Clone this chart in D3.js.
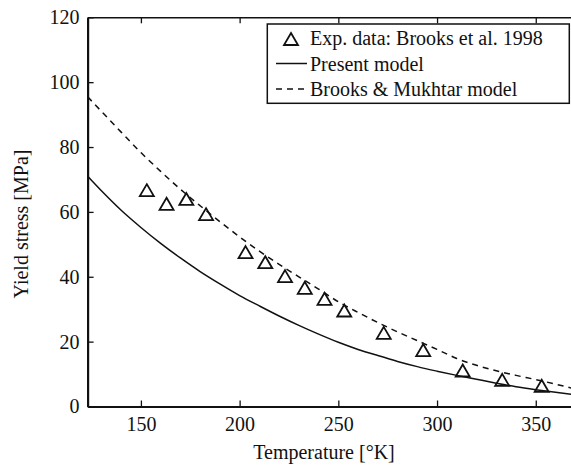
<!DOCTYPE html>
<html>
<head>
<meta charset="utf-8">
<script src="https://cdn.jsdelivr.net/npm/d3@7"></script>
<style>
  body { margin: 0; background: #fff; }
  svg, svg text { font-family: 'Liberation Serif', 'Times New Roman', 'DejaVu Serif', serif; }
</style>
</head>
<body>
<svg></svg>
<script>
// experimental points (Brooks et al. 1998)
const expTemp = [153, 163, 173, 183, 203, 213, 223, 233, 243, 253, 273, 293, 313, 333, 353];
const expStress = [66.7, 62.5, 64.0, 59.3, 47.6, 44.5, 40.2, 36.6, 33.2, 29.6, 22.7, 17.4, 11.1, 8.2, 6.4];

// model curves
const modelTemp = [123, 130, 140, 150, 160, 170, 180, 190, 200, 210, 220, 230, 240, 250, 260, 270, 280, 290, 300, 310, 320, 330, 340, 350, 360, 368];
const presentModel = [71.0, 66.5, 60.5, 55.2, 50.3, 45.8, 41.6, 37.8, 34.2, 31.0, 27.9, 25.0, 22.3, 19.8, 17.6, 15.7, 13.9, 12.3, 10.9, 9.6, 8.4, 7.2, 6.1, 5.2, 4.4, 3.8];
const brooksModel = [95.5, 91.0, 84.6, 78.3, 72.5, 67.0, 61.9, 57.0, 52.3, 47.9, 43.8, 40.0, 36.2, 32.3, 29.0, 25.9, 23.0, 20.3, 17.6, 14.8, 12.7, 11.0, 9.6, 8.3, 6.9, 5.7];

const xTicks = [150, 200, 250, 300, 350];
const yTicks = [0, 20, 40, 60, 80, 100, 120];
const legendLabels = ['Exp. data: Brooks et al. 1998', 'Present model', 'Brooks & Mukhtar model'];

const serif = "'Liberation Serif', 'Times New Roman', 'DejaVu Serif', serif";

const svg = d3.select('svg');
svg.attr('width', 571)
   .attr('height', 468);
const width = +svg.attr('width');
const height = +svg.attr('height');

const margin = {top: 17.3, right: 0, bottom: 61.5, left: 87.6};
const innerWidth = 571.3 - margin.left;
const innerHeight = height - margin.top - margin.bottom;

const xScale = d3.scaleLinear()
  .domain([123, 368])
  .range([0, innerWidth]);

const yScale = d3.scaleLinear()
  .domain([0, 120])
  .range([innerHeight, 0]);

const g = svg.append('g')
  .attr('transform', 'translate(' + margin.left + ',' + margin.top + ')');

g.append('clipPath').attr('id', 'plot-clip')
  .append('rect')
  .attr('width', innerWidth)
  .attr('height', innerHeight);

// axes (ticks point inward)
const xAxis = d3.axisBottom(xScale).tickValues(xTicks).tickSize(-6).tickSizeOuter(0).tickPadding(10);
const yAxis = d3.axisLeft(yScale).tickValues(yTicks).tickSize(-6).tickSizeOuter(0).tickPadding(8);
const topAxis = d3.axisTop(xScale).tickValues(xTicks).tickSize(-6).tickSizeOuter(0).tickFormat('');

const xg = g.append('g').attr('transform', 'translate(0,' + innerHeight + ')').call(xAxis);
const yg = g.append('g').call(yAxis);
const tg = g.append('g').call(topAxis);

[xg, yg, tg].forEach(a => {
  a.attr('font-family', null).attr('font-size', null);
  a.selectAll('text').style('font-family', serif).style('font-size', '20px').attr('fill', '#111');
  a.selectAll('line').attr('stroke', '#111').attr('stroke-width', 1.3);
  a.select('.domain').attr('stroke', '#111').attr('stroke-width', 2.2);
});
tg.select('.domain').attr('stroke-width', 1.4);

// curves
const line = d3.line()
  .x(d => xScale(d[0]))
  .y(d => yScale(d[1]))
  .curve(d3.curveMonotoneX);

const plot = g.append('g').attr('clip-path', 'url(#plot-clip)');

plot.append('path')
  .datum(modelTemp.map((t, i) => [t, presentModel[i]]))
  .attr('d', line)
  .attr('fill', 'none')
  .attr('stroke', '#111')
  .attr('stroke-width', 1.5);

plot.append('path')
  .datum(modelTemp.map((t, i) => [t, brooksModel[i]]))
  .attr('d', line)
  .attr('fill', 'none')
  .attr('stroke', '#111')
  .attr('stroke-width', 1.5)
  .attr('stroke-dasharray', '6,5');

// triangle marker, centred on its bounding box
const tri = 'M0,-6L7,6L-7,6Z';

plot.selectAll('.pt').data(expTemp)
  .enter().append('path')
  .attr('class', 'pt')
  .attr('d', tri)
  .attr('transform', (d, i) => 'translate(' + xScale(d) + ',' + yScale(expStress[i]) + ')')
  .attr('fill', 'none')
  .attr('stroke', '#111')
  .attr('stroke-width', 1.8);

// axis titles
svg.append('text')
  .attr('x', 324)
  .attr('y', 459)
  .attr('text-anchor', 'middle')
  .style('font-family', serif)
  .style('font-size', '20px')
  .attr('fill', '#111')
  .text('Temperature [°K]');

svg.append('text')
  .attr('transform', 'translate(28,224) rotate(-90)')
  .attr('text-anchor', 'middle')
  .style('font-family', serif)
  .style('font-size', '20px')
  .attr('fill', '#111')
  .text('Yield stress [MPa]');

// legend
const lg = svg.append('g');
lg.append('rect')
  .attr('x', 267.3)
  .attr('y', 24)
  .attr('width', 302)
  .attr('height', 79.3)
  .attr('fill', '#fff')
  .attr('stroke', '#111')
  .attr('stroke-width', 1.5);

const rowY = [45, 70.5, 96];
lg.selectAll('.lt').data(legendLabels)
  .enter().append('text')
  .attr('class', 'lt')
  .attr('x', 310)
  .attr('y', (d, i) => rowY[i])
  .style('font-family', serif)
  .style('font-size', '20px')
  .attr('fill', '#111')
  .text(d => d);

lg.append('path')
  .attr('d', tri)
  .attr('transform', 'translate(291,' + (rowY[0] - 6) + ')')
  .attr('fill', 'none')
  .attr('stroke', '#111')
  .attr('stroke-width', 1.8);

lg.append('line')
  .attr('x1', 276).attr('x2', 307)
  .attr('y1', rowY[1] - 7).attr('y2', rowY[1] - 7)
  .attr('stroke', '#111').attr('stroke-width', 1.5);

lg.append('line')
  .attr('x1', 276).attr('x2', 307)
  .attr('y1', rowY[2] - 7).attr('y2', rowY[2] - 7)
  .attr('stroke', '#111').attr('stroke-width', 1.5)
  .attr('stroke-dasharray', '6,5');
</script>
</body>
</html>
